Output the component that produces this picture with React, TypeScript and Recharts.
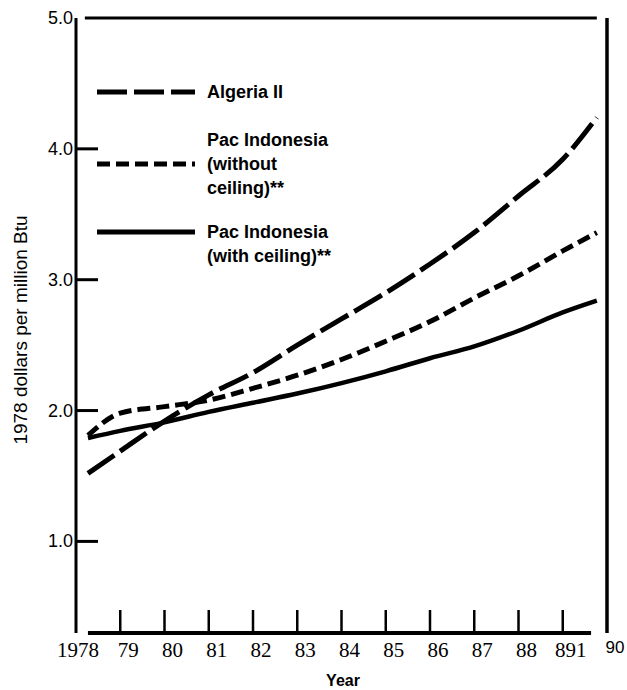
import { LineChart, Line, XAxis, YAxis, ReferenceLine, Legend } from 'recharts';

// years (lines start just right of the axis and stop at the frame)
const years = [1978.27, 1979, 1980, 1981, 1982, 1983, 1984, 1985, 1986, 1987, 1988, 1989, 1989.77];
const algeria = [1.52, 1.69, 1.92, 2.12, 2.29, 2.5, 2.7, 2.9, 3.12, 3.36, 3.64, 3.92, 4.24];
const withoutCeiling = [1.81, 1.98, 2.03, 2.08, 2.17, 2.27, 2.39, 2.53, 2.68, 2.86, 3.03, 3.22, 3.36];
const withCeiling = [1.79, 1.845, 1.91, 1.99, 2.06, 2.13, 2.21, 2.3, 2.4, 2.49, 2.61, 2.75, 2.84];

const xTicks = [1978, 1979, 1980, 1981, 1982, 1983, 1984, 1985, 1986, 1987, 1988, 1989, 1990];
const xTickLabels = ['1978', '79', '80', '81', '82', '83', '84', '85', '86', '87', '88', '891', '90'];
const yTicks = [1, 2, 3, 4, 5];
const yTickLabels = ['1.0', '2.0', '3.0', '4.0', '5.0'];

const seriesNames = ['Algeria II', 'Pac Indonesia (without ceiling)**', 'Pac Indonesia (with ceiling)**'];
const legendLines = [['Algeria II'], ['Pac Indonesia', '(without', 'ceiling)**'], ['Pac Indonesia', '(with ceiling)**']];

const data = years.map((year, i) => ({
  year,
  algeria: algeria[i],
  without: withoutCeiling[i],
  with: withCeiling[i],
}));

const SANS = '"Liberation Sans", Arial, sans-serif';
const SERIF = '"Liberation Serif", "Times New Roman", serif';

function XTick({ x, y, payload }: any) {
  const v = payload.value;
  const label = xTickLabels[xTicks.indexOf(v)];
  const last = v === 1990;
  return (
    <g>
      {v > 1978 && v < 1990 && (
        <line x1={x} x2={x} y1={y} y2={y - 23} stroke="#000" strokeWidth={2.5} />
      )}
      <text
        x={x + (v === 1978 ? 2 : 8)}
        y={last ? y + 20 : y + 24}
        textAnchor="middle"
        fontFamily={last ? SANS : SERIF}
        fontSize={last ? 17 : 21}
        fill="#000"
      >
        {label}
      </text>
    </g>
  );
}

function YTick({ x, y, payload }: any) {
  const v = payload.value;
  return (
    <g>
      {v < 5 && <line x1={x} x2={x + 22} y1={y} y2={y} stroke="#000" strokeWidth={3} />}
      <text x={x - 3} y={y + 6} textAnchor="end" fontFamily={SANS} fontSize={18} fill="#000">
        {yTickLabels[yTicks.indexOf(v)]}
      </text>
    </g>
  );
}

function YLabel() {
  return (
    <text
      x={20}
      y={330}
      transform="rotate(-90 20 330)"
      textAnchor="middle"
      dominantBaseline="central"
      fontFamily={SANS}
      fontSize={19}
      fill="#000"
    >
      1978 dollars per million Btu
    </text>
  );
}

function XLabel() {
  return (
    <text x={343} y={686} textAnchor="middle" fontFamily={SANS} fontSize={16} fontWeight="bold" fill="#000">
      Year
    </text>
  );
}

function ChartLegend() {
  const dashes = ['30 7', '13 6', undefined];
  const lineY = [92, 164, 232];
  const textY = [[98], [146, 170, 194], [238, 262]];
  return (
    <svg width={627} height={300}>
      {legendLines.map((rows, i) => (
        <g key={i}>
          <line x1={97} x2={195} y1={lineY[i]} y2={lineY[i]} stroke="#000" strokeWidth={5} strokeDasharray={dashes[i]} />
          {rows.map((row, j) => (
            <text key={j} x={207} y={textY[i][j]} fontFamily={SANS} fontSize={18} fontWeight="bold" fill="#000">
              {row}
            </text>
          ))}
        </g>
      ))}
    </svg>
  );
}

export default function App() {
  return (
    <div style={{ position: 'absolute', left: 0, top: 0, background: '#fff' }}>
      <LineChart width={627} height={690} data={data} margin={{ top: 18, right: 20, bottom: 0, left: 0 }}>
        <XAxis
          dataKey="year"
          type="number"
          domain={[1978, 1990]}
          ticks={xTicks}
          interval={0}
          axisLine={false}
          tickLine={false}
          tickSize={0}
          tickMargin={0}
          height={57}
          tick={<XTick />}
          label={<XLabel />}
        />
        <YAxis
          type="number"
          domain={[0.3, 5]}
          ticks={yTicks}
          interval={0}
          width={76}
          axisLine={{ stroke: '#000', strokeWidth: 3 }}
          tickLine={false}
          tickSize={0}
          tickMargin={0}
          tick={<YTick />}
          label={<YLabel />}
        />
        <ReferenceLine segment={[{ x: 1978.2, y: 5 }, { x: 1989.77, y: 5 }]} stroke="#000" strokeWidth={3} />
        <ReferenceLine x={1990} stroke="#000" strokeWidth={3.5} />
        <ReferenceLine segment={[{ x: 1978.27, y: 0.3 }, { x: 1989.64, y: 0.3 }]} stroke="#000" strokeWidth={4} />
        <Legend
          layout="horizontal"
          verticalAlign="middle"
          align="center"
          wrapperStyle={{ position: 'absolute', left: 0, top: 0, width: 627, height: 300 }}
          content={<ChartLegend />}
        />
        <Line
          name={seriesNames[0]}
          dataKey="algeria"
          type="monotone"
          stroke="#000"
          strokeWidth={5}
          strokeDasharray="32 7"
          dot={false}
          activeDot={false}
          isAnimationActive={false}
        />
        <Line
          name={seriesNames[1]}
          dataKey="without"
          type="monotone"
          stroke="#000"
          strokeWidth={5}
          strokeDasharray="13 6"
          dot={false}
          activeDot={false}
          isAnimationActive={false}
        />
        <Line
          name={seriesNames[2]}
          dataKey="with"
          type="monotone"
          stroke="#000"
          strokeWidth={4.5}
          dot={false}
          activeDot={false}
          isAnimationActive={false}
        />
      </LineChart>
    </div>
  );
}
